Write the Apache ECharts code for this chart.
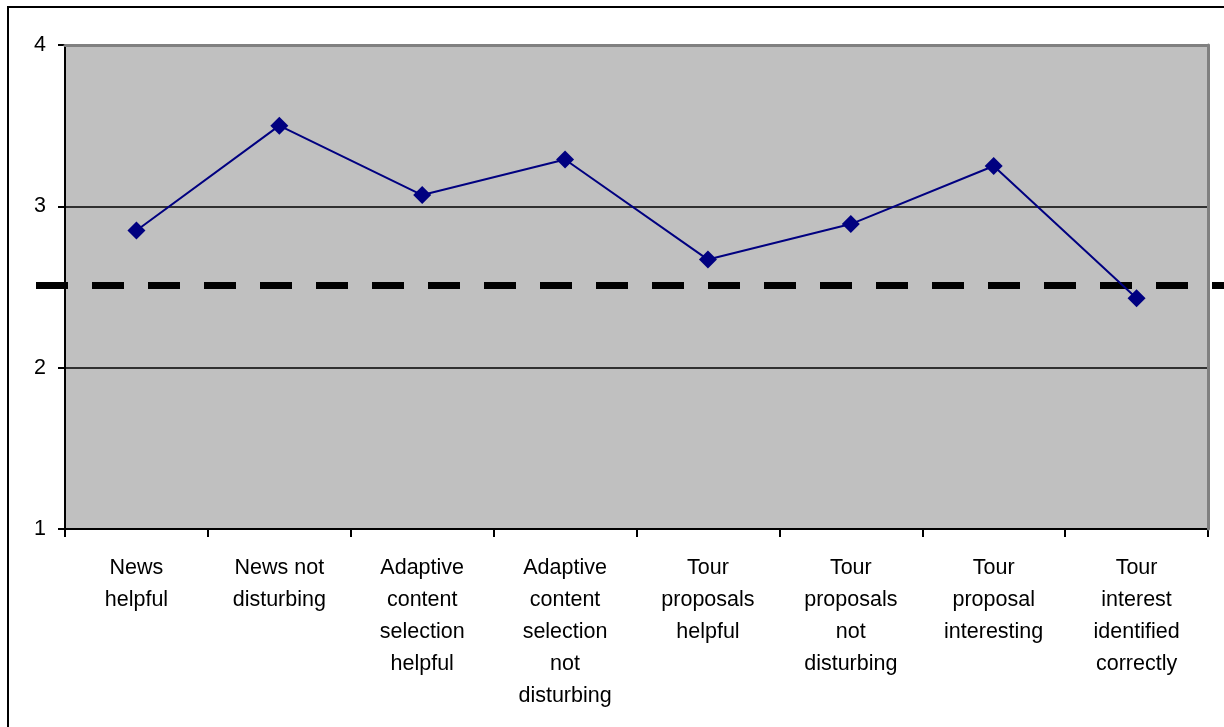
<!DOCTYPE html>
<html>
<head>
<meta charset="utf-8">
<script src="https://cdn.jsdelivr.net/npm/echarts@6/dist/echarts.min.js"></script>
<style>
  html, body { margin: 0; padding: 0; background: #ffffff; }
  #chart { width: 1224px; height: 727px; }
</style>
</head>
<body>
<div id="chart"></div>
<script>
// Survey item labels (line breaks as laid out under each category)
const categories = [
  'News\nhelpful',
  'News not\ndisturbing',
  'Adaptive\ncontent\nselection\nhelpful',
  'Adaptive\ncontent\nselection\nnot\ndisturbing',
  'Tour\nproposals\nhelpful',
  'Tour\nproposals\nnot\ndisturbing',
  'Tour\nproposal\ninteresting',
  'Tour\ninterest\nidentified\ncorrectly'
];

// Mean rating per item
const meanScores = [2.85, 3.50, 3.07, 3.29, 2.67, 2.89, 3.25, 2.43];

// Reference level drawn as the heavy dashed line
const referenceLevel = [2.51, 2.51];
const referenceSpan = [0, 1];

// Value axis range and step
const yMin = 1, yMax = 4, yStep = 1;

const FONT = '"Liberation Sans", Arial, sans-serif';

const chart = echarts.init(document.getElementById('chart'), null, { renderer: 'canvas' });

chart.setOption({
  animation: false,
  backgroundColor: '#ffffff',
  textStyle: { fontFamily: FONT },
  graphic: [
    {
      // outer frame around the chart area
      type: 'rect',
      shape: { x: 8, y: 7, width: 1400, height: 900 },
      style: { fill: null, stroke: '#000000', lineWidth: 2 },
      silent: true,
      z: 100
    }
  ],
  grid: [
    { left: 65, right: 16, top: 45, bottom: 198, show: true, backgroundColor: '#C0C0C0', borderWidth: 0 },
    { left: 36, width: 1300, top: 45, bottom: 198, show: false }
  ],
  xAxis: [
    {
      type: 'category',
      gridIndex: 0,
      data: categories,
      boundaryGap: true,
      axisLine: { show: true, lineStyle: { color: '#000000', width: 2 } },
      axisTick: { show: true, length: 8, alignWithLabel: false, lineStyle: { color: '#000000', width: 2 } },
      axisLabel: {
        interval: 0,
        color: '#000000',
        fontFamily: FONT,
        fontSize: 21.5,
        lineHeight: 32,
        margin: 23,
        align: 'center',
        verticalAlign: 'top'
      },
      splitLine: { show: false },
      z: 5
    },
    {
      // gray top edge of the plot area
      type: 'category',
      gridIndex: 0,
      position: 'top',
      data: categories,
      axisLine: { show: true, lineStyle: { color: '#808080', width: 3 } },
      axisTick: { show: false },
      axisLabel: { show: false },
      splitLine: { show: false },
      z: 6
    },
    {
      type: 'value',
      gridIndex: 1,
      min: 0,
      max: 1,
      show: false
    }
  ],
  yAxis: [
    {
      type: 'value',
      gridIndex: 0,
      min: yMin,
      max: yMax,
      interval: yStep,
      axisLine: { show: true, lineStyle: { color: '#000000', width: 2 } },
      axisTick: { show: true, length: 7, lineStyle: { color: '#000000', width: 2 } },
      axisLabel: { color: '#000000', fontFamily: FONT, fontSize: 21.5, margin: 19 },
      splitLine: { show: true, lineStyle: { color: '#000000', width: 1.5 } },
      z: 5
    },
    {
      // gray right edge of the plot area
      type: 'value',
      gridIndex: 0,
      position: 'right',
      min: yMin,
      max: yMax,
      interval: yStep,
      axisLine: { show: true, lineStyle: { color: '#808080', width: 3 } },
      axisTick: { show: false },
      axisLabel: { show: false },
      splitLine: { show: false },
      z: 6
    },
    {
      type: 'value',
      gridIndex: 1,
      min: yMin,
      max: yMax,
      show: false
    }
  ],
  series: [
    {
      name: 'reference',
      type: 'line',
      xAxisIndex: 2,
      yAxisIndex: 2,
      data: referenceSpan.map((x, i) => [x, referenceLevel[i]]),
      symbol: 'none',
      lineStyle: { color: '#000000', width: 7, type: [32, 24], cap: 'butt' },
      silent: true,
      z: 7
    },
    {
      name: 'mean',
      type: 'line',
      xAxisIndex: 0,
      yAxisIndex: 0,
      data: meanScores,
      symbol: 'diamond',
      symbolSize: 18,
      lineStyle: { color: '#000080', width: 2 },
      itemStyle: { color: '#000080', borderWidth: 0 },
      z: 8
    }
  ]
});
</script>
</body>
</html>
